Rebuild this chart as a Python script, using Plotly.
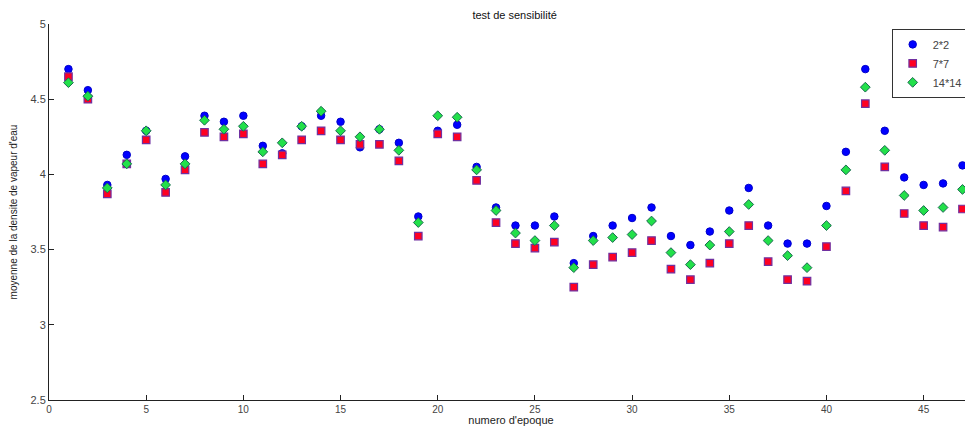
import plotly.graph_objects as go

epoques = list(range(1, 48))
serie_2x2 = [4.70, 4.56, 3.93, 4.13, 4.29, 3.97, 4.12, 4.39, 4.35, 4.39,
             4.19, 4.14, 4.32, 4.39, 4.35, 4.18, 4.30, 4.21, 3.72, 4.29,
             4.33, 4.05, 3.78, 3.66, 3.66, 3.72, 3.41, 3.59, 3.66, 3.71,
             3.78, 3.59, 3.53, 3.62, 3.76, 3.91, 3.66, 3.54, 3.54, 3.79,
             4.15, 4.70, 4.29, 3.98, 3.93, 3.94, 4.06]
serie_7x7 = [4.65, 4.50, 3.87, 4.07, 4.23, 3.88, 4.03, 4.28, 4.25, 4.27,
             4.07, 4.13, 4.23, 4.29, 4.23, 4.20, 4.20, 4.09, 3.59, 4.27,
             4.25, 3.96, 3.68, 3.54, 3.51, 3.55, 3.25, 3.40, 3.45, 3.48,
             3.56, 3.37, 3.30, 3.41, 3.54, 3.66, 3.42, 3.30, 3.29, 3.52,
             3.89, 4.47, 4.05, 3.74, 3.66, 3.65, 3.77]
serie_14x14 = [4.61, 4.52, 3.91, 4.07, 4.29, 3.93, 4.07, 4.36, 4.30, 4.32,
               4.15, 4.21, 4.32, 4.42, 4.29, 4.25, 4.30, 4.16, 3.68, 4.39,
               4.38, 4.03, 3.76, 3.61, 3.56, 3.66, 3.38, 3.56, 3.58, 3.60,
               3.69, 3.48, 3.40, 3.53, 3.62, 3.80, 3.56, 3.46, 3.38, 3.66,
               4.03, 4.58, 4.16, 3.86, 3.76, 3.78, 3.90]
noms = ["2*2", "7*7", "14*14"]
x_ticks = [0, 5, 10, 15, 20, 25, 30, 35, 40, 45]
y_ticks = [2.5, 3, 3.5, 4, 4.5, 5]

FONT = "Liberation Sans"

fig = go.Figure()
fig.add_trace(go.Scatter(
    x=epoques, y=serie_2x2, mode="markers", name=noms[0],
    marker=dict(symbol="circle", size=7.5, color="#0000ff",
                line=dict(color="#0000cc", width=1))))
fig.add_trace(go.Scatter(
    x=epoques, y=serie_7x7, mode="markers", name=noms[1],
    marker=dict(symbol="square", size=7.5, color="#ff0022",
                line=dict(color="#7030a0", width=1.2))))
fig.add_trace(go.Scatter(
    x=epoques, y=serie_14x14, mode="markers", name=noms[2],
    marker=dict(symbol="diamond", size=7.5, color="#22e04a",
                line=dict(color="#1a6a50", width=1))))

axis_common = dict(
    showgrid=False, zeroline=False, showline=True, linecolor="#222222",
    linewidth=1, ticks="inside", ticklen=5, tickcolor="#222222",
)

# page body has an 8px default margin: figure sized/offset to compensate
fig.update_layout(
    width=965, height=418,
    margin=dict(l=41, r=0, t=16, b=26, autoexpand=False),
    paper_bgcolor="white", plot_bgcolor="white",
    title=dict(text="test de sensibilité", x=0.525, xanchor="center",
               y=0.983, yanchor="middle",
               font=dict(family=FONT, size=11, color="#111111")),
    xaxis=dict(range=[0, 47.54], tickvals=x_ticks,
               tickfont=dict(family=FONT, size=10, color="#444444"),
               title=dict(text="numero d'epoque", standoff=4,
                          font=dict(family=FONT, size=11, color="#222222")),
               **axis_common),
    yaxis=dict(range=[2.5, 5], tickvals=y_ticks,
               ticktext=[str(v) for v in y_ticks],
               tickfont=dict(family=FONT, size=11, color="#444444"),
               title=dict(text="moyenne de la densite de vapeur d'eau", standoff=12,
                          font=dict(family=FONT, size=10, color="#222222")),
               **axis_common),
    legend=dict(x=0.912, y=0.987, xanchor="left", yanchor="top",
                bgcolor="white", bordercolor="#333333", borderwidth=1,
                font=dict(family=FONT, size=11, color="#444444")),
    showlegend=True,
)

fig.write_html("out.html")
